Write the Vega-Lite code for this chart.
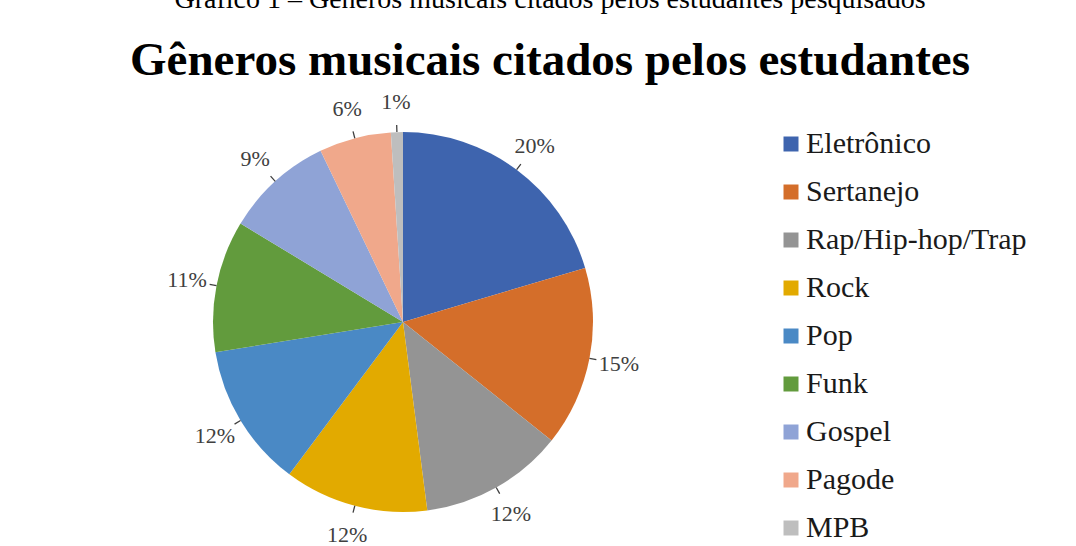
{
  "$schema": "https://vega.github.io/schema/vega-lite/v6.json",
  "autosize": "none",
  "width": 380,
  "height": 380,
  "padding": {"left": 213, "top": 132, "right": 483, "bottom": 34},
  "background": "white",
  "title": {
    "text": "Gráfico 1 – Gêneros musicais citados pelos estudantes pesquisados",
    "subtitle": "Gêneros musicais citados pelos estudantes",
    "anchor": "middle",
    "frame": "group",
    "dx": 147,
    "offset": 7,
    "font": "Liberation Serif",
    "fontSize": 28,
    "fontWeight": "normal",
    "color": "#000000",
    "subtitleFont": "Liberation Serif",
    "subtitleFontSize": 47,
    "subtitleFontWeight": "bold",
    "subtitleColor": "#000000",
    "subtitlePadding": 24
  },
  "data": {
    "values": [
      {"ord": 1, "genero": "Eletrônico", "share": 0.20},
      {"ord": 2, "genero": "Sertanejo", "share": 0.15},
      {"ord": 3, "genero": "Rap/Hip-hop/Trap", "share": 0.12},
      {"ord": 4, "genero": "Rock", "share": 0.12},
      {"ord": 5, "genero": "Pop", "share": 0.12},
      {"ord": 6, "genero": "Funk", "share": 0.11},
      {"ord": 7, "genero": "Gospel", "share": 0.09},
      {"ord": 8, "genero": "Pagode", "share": 0.06},
      {"ord": 9, "genero": "MPB", "share": 0.01}
    ]
  },
  "encoding": {
    "theta": {"field": "share", "type": "quantitative", "stack": true},
    "order": {"field": "ord", "type": "quantitative"}
  },
  "layer": [
    {
      "mark": {"type": "arc", "radius": 190},
      "encoding": {
        "color": {
          "field": "genero",
          "type": "nominal",
          "sort": null,
          "scale": {
            "domain": ["Eletrônico", "Sertanejo", "Rap/Hip-hop/Trap", "Rock", "Pop", "Funk", "Gospel", "Pagode", "MPB"],
            "range": ["#3E64AE", "#D46E2A", "#949494", "#E2AA00", "#4A89C5", "#629B3D", "#8FA3D6", "#F0A88B", "#BEBEBE"]
          },
          "legend": {
            "orient": "none",
            "legendX": 563,
            "legendY": -3,
            "title": null,
            "symbolType": "square",
            "symbolSize": 225,
            "symbolStrokeWidth": 0,
            "labelFont": "Liberation Serif",
            "labelFontSize": 30,
            "labelColor": "#1a1a1a",
            "labelOffset": 0,
            "rowPadding": 18,
            "padding": 0,
            "labelLimit": 400
          }
        }
      }
    },
    {
      "mark": {"type": "arc", "radius": 197, "radius2": 190, "padAngle": 3, "fillOpacity": 0, "stroke": "#404040", "strokeWidth": 1.3}
    },
    {
      "mark": {"type": "text", "radius": 220, "font": "Liberation Serif", "fontSize": 22, "color": "#404040"},
      "encoding": {
        "text": {"field": "share", "type": "quantitative", "format": ".0%"}
      }
    }
  ],
  "config": {
    "view": {"stroke": null}
  }
}
